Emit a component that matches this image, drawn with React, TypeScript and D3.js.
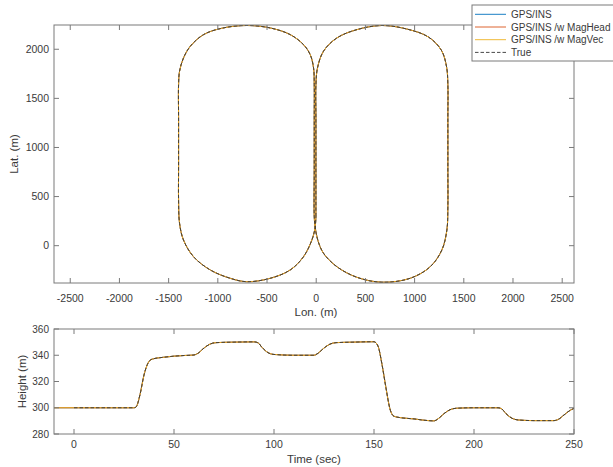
import React from "react";
import * as d3 from "d3";

// ---- Data ----
// Ground track (Lon., Lat.) in metres, in travel order
const trackLon = [
  -3, -3, -3, -3, 13, 74, 210, 414, 668, 925, 1140, 1272, 1325, 1338, 1338, 1338, 1338,
  1328, 1277, 1159, 955, 668, 414, 210, 74, 15, -12, -20, -20, -20, -20, -27, -61, -129,
  -264, -467, -704, -955, -1145, -1280, -1349, -1389, -1399, -1399, -1399, -1399, -1389,
  -1349, -1247, -1077, -874, -704, -467, -264, -129, -44, -12, -3,
];
const trackLat = [
  300, 800, 1300, 1640, 1810, 1980, 2115, 2200, 2242, 2205, 2125, 1990, 1820, 1640, 1300,
  800, 397, 160, -44, -214, -332, -372, -322, -214, -77, 60, 200, 300, 800, 1300, 1640,
  1810, 1945, 2047, 2149, 2217, 2242, 2215, 2149, 2030, 1911, 1776, 1640, 1300, 800, 465,
  228, 58, -112, -247, -332, -367, -332, -247, -112, 58, 180, 300,
];
// Estimated tracks overlay the truth at this scale
const gpsLon = trackLon;
const gpsLat = trackLat;
const headLon = trackLon;
const headLat = trackLat;
const vecLon = trackLon;
const vecLat = trackLat;

// Height vs time
const trueTime = [
  0, 30, 31, 33, 35, 37, 39, 45, 50, 55, 60, 62, 65, 68, 71, 80, 90, 92, 94, 97, 100, 110,
  120, 122, 125, 128, 131, 140, 150, 152, 154, 156, 158, 160, 163, 170, 175, 180, 182, 185,
  188, 191, 200, 212, 214, 216, 219, 222, 230, 240, 242, 245, 248, 250,
];
const trueHeight = [
  300, 300, 300.5, 310, 325, 334, 337, 338.5, 339.3, 339.8, 340.2, 341.5, 345.5, 348.5,
  349.6, 350, 350.2, 349.5, 346, 342, 340.6, 340, 340, 341.5, 345.5, 348.5, 349.6, 350,
  350.3, 347, 333, 315, 299, 293.5, 292.5, 291.5, 290.5, 290, 291.5, 295.5, 298.5, 299.6,
  300, 300, 299, 295.5, 292, 290.7, 290.2, 290.2, 291, 294.5, 298, 299.5,
];
const estTime = [-10, ...trueTime];
const estHeight = [300, ...trueHeight];

const seriesNames = ["GPS/INS", "GPS/INS /w MagHead", "GPS/INS /w MagVec", "True"];
const seriesColors = ["#0072BD", "#D95319", "#EDB120", "#333333"];

const lonTicks = [-2500, -2000, -1500, -1000, -500, 0, 500, 1000, 1500, 2000, 2500];
const latTicks = [0, 500, 1000, 1500, 2000];
const timeTicks = [0, 50, 100, 150, 200, 250];
const heightTicks = [280, 300, 320, 340, 360];

// ---- Layout ----
const W = 613;
const H = 467;
const FONT = "'Liberation Sans', Arial, Helvetica, sans-serif";
const AXIS = "#7a7a7a";
const TEXT = "#3a3a3a";
const TICK = 5;

const top = { l: 54, r: 574, t: 25, b: 283 };
const bot = { l: 54, r: 574, t: 329, b: 434 };

export default function App() {
  const xT = d3.scaleLinear().domain([-2665, 2620]).range([top.l, top.r]);
  const yT = d3.scaleLinear().domain([-380, 2247]).range([top.b, top.t]);
  const xB = d3.scaleLinear().domain([-10, 250]).range([bot.l, bot.r]);
  const yB = d3.scaleLinear().domain([280, 360]).range([bot.b, bot.t]);

  const trackLine = (lon: number[], lat: number[]) =>
    d3
      .line<number>()
      .x((_, i) => xT(lon[i]))
      .y((_, i) => yT(lat[i]))
      .curve(d3.curveCatmullRom.alpha(0.5))(lon) || "";

  const hLine = (t: number[], h: number[]) =>
    d3
      .line<number>()
      .x((_, i) => xB(t[i]))
      .y((_, i) => yB(h[i]))
      .curve(d3.curveMonotoneX)(t) || "";

  const topPaths = [
    trackLine(gpsLon, gpsLat),
    trackLine(headLon, headLat),
    trackLine(vecLon, vecLat),
    trackLine(trackLon, trackLat),
  ];
  const botPaths = [
    hLine(estTime, estHeight),
    hLine(estTime, estHeight),
    hLine(estTime, estHeight),
    hLine(trueTime, trueHeight),
  ];

  const frame = (b: typeof top) => (
    <rect x={b.l} y={b.t} width={b.r - b.l} height={b.b - b.t} fill="none" stroke={AXIS} strokeWidth={1} />
  );

  const xTicks = (b: typeof top, sc: d3.ScaleLinear<number, number>, ticks: number[], labelY: number) =>
    ticks.map((v) => (
      <g key={"x" + v}>
        <line x1={sc(v)} x2={sc(v)} y1={b.b} y2={b.b - TICK} stroke={AXIS} />
        <line x1={sc(v)} x2={sc(v)} y1={b.t} y2={b.t + TICK} stroke={AXIS} />
        <text x={sc(v)} y={labelY} textAnchor="middle" fontSize={10.5} fill={TEXT} fontFamily={FONT}>
          {v}
        </text>
      </g>
    ));

  const yTicks = (b: typeof top, sc: d3.ScaleLinear<number, number>, ticks: number[], fs: number) =>
    ticks.map((v) => (
      <g key={"y" + v}>
        <line x1={b.l} x2={b.l + TICK} y1={sc(v)} y2={sc(v)} stroke={AXIS} />
        <line x1={b.r} x2={b.r - TICK} y1={sc(v)} y2={sc(v)} stroke={AXIS} />
        <text x={b.l - 5} y={sc(v)} dy="0.35em" textAnchor="end" fontSize={fs} fill={TEXT} fontFamily={FONT}>
          {v}
        </text>
      </g>
    ));

  const styleFor = (i: number) =>
    i === 3
      ? { stroke: seriesColors[i], strokeWidth: 0.9, strokeDasharray: "3.5,2" }
      : { stroke: seriesColors[i], strokeWidth: 0.9 };

  return (
    <div style={{ position: "absolute", left: 0, top: 0 }}>
      <svg width={W} height={H} style={{ display: "block", background: "#fff" }}>
        <defs>
          <clipPath id="clipTop">
            <rect x={top.l} y={top.t} width={top.r - top.l} height={top.b - top.t} />
          </clipPath>
          <clipPath id="clipBot">
            <rect x={bot.l} y={bot.t} width={bot.r - bot.l} height={bot.b - bot.t} />
          </clipPath>
        </defs>
        <rect x={0} y={0} width={W} height={H} fill="#fff" />

        {/* Top axes */}
        <g clipPath="url(#clipTop)">
          {topPaths.map((d, i) => (
            <path key={i} d={d} fill="none" {...styleFor(i)} />
          ))}
        </g>
        {frame(top)}
        {xTicks(top, xT, lonTicks, 302)}
        {yTicks(top, yT, latTicks, 10.5)}
        <text x={(top.l + top.r) / 2 + 2} y={316} textAnchor="middle" fontSize={11.5} fill={TEXT} fontFamily={FONT}>
          Lon. (m)
        </text>
        <text
          transform={`translate(18,${(top.t + top.b) / 2}) rotate(-90)`}
          textAnchor="middle"
          fontSize={11.5}
          fill={TEXT}
          fontFamily={FONT}
        >
          Lat. (m)
        </text>

        {/* Bottom axes */}
        <g clipPath="url(#clipBot)">
          {botPaths.map((d, i) => (
            <path key={i} d={d} fill="none" {...styleFor(i)} />
          ))}
        </g>
        {frame(bot)}
        {xTicks(bot, xB, timeTicks, 448)}
        {yTicks(bot, yB, heightTicks, 10)}
        <text x={(bot.l + bot.r) / 2} y={463} textAnchor="middle" fontSize={11.5} fill={TEXT} fontFamily={FONT}>
          Time (sec)
        </text>
        <text
          transform={`translate(26,${(bot.t + bot.b) / 2}) rotate(-90)`}
          textAnchor="middle"
          fontSize={11.5}
          fill={TEXT}
          fontFamily={FONT}
        >
          Height (m)
        </text>

        {/* Legend */}
        <g>
          <rect x={472} y={5} width={150} height={56} fill="#fff" stroke={AXIS} strokeWidth={1} />
          {seriesNames.map((name, i) => {
            const y = 14.3 + i * 12.7;
            return (
              <g key={name}>
                <line x1={475} x2={506} y1={y} y2={y} {...styleFor(i)} />
                <text x={511} y={y} dy="0.35em" fontSize={10} fill={TEXT} fontFamily={FONT}>
                  {name}
                </text>
              </g>
            );
          })}
        </g>
      </svg>
    </div>
  );
}
